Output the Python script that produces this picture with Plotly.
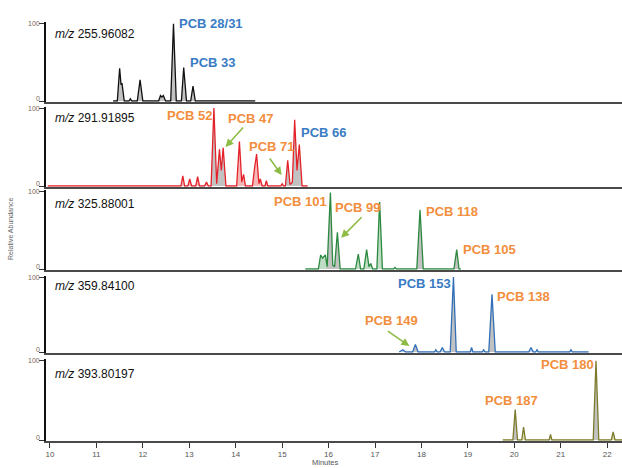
import plotly.graph_objects as go

# ---------------- data ----------------
x_ticks = list(range(10, 23))
y_ticks = [0, 100]
mz_values = ["255.96082", "291.91895", "325.88001", "359.84100", "393.80197"]

# panel 1 (m/z 255.96082) - time (min), relative abundance (%)
p1_t = [11.36, 11.45, 11.50, 11.53, 11.55, 11.60, 11.70, 11.73, 11.76, 11.88, 11.94, 12.00,
        12.34, 12.38, 12.41, 12.44, 12.49, 12.60, 12.66, 12.72, 12.83, 12.88, 12.94,
        13.03, 13.08, 13.13, 14.42]
p1_i = [0, 0, 42, 21, 23, 0, 0, 3, 0, 0, 27, 0,
        0, 7, 5, 7, 0, 0, 99, 0, 0, 43, 0,
        0, 19, 0, 0]
p1_gray = [11.50, 11.55, 11.94, 12.41, 12.66, 12.88, 13.08]

# panel 2 (m/z 291.91895)
p2_t = [9.95, 12.82, 12.86, 12.90, 12.97, 13.01, 13.05, 13.14, 13.18, 13.22, 13.33, 13.37, 13.41,
        13.47, 13.53, 13.59, 13.65, 13.69, 13.73, 13.79, 14.02, 14.08, 14.13, 14.17, 14.21,
        14.36, 14.41, 14.45, 14.50, 14.53, 14.57, 14.63, 14.66, 14.69, 14.97, 15.00, 15.03,
        15.07, 15.12, 15.17, 15.22, 15.27, 15.32, 15.37, 15.43, 15.55]
p2_i = [0, 0, 13, 0, 0, 9, 0, 0, 12, 0, 0, 5, 0,
        0, 100, 3, 47, 20, 49, 0, 0, 57, 5, 15, 0,
        0, 25, 41, 3, 9, 0, 0, 7, 0, 0, 3, 0,
        0, 33, 2, 5, 85, 20, 53, 0, 0]
p2_gray = [13.53, 13.65, 13.73, 15.12, 15.27, 15.37]

# panel 3 (m/z 325.88001)
p3_t = [15.50, 15.78, 15.83, 15.87, 15.93, 15.97, 16.04, 16.09, 16.13, 16.19, 16.25,
        16.58, 16.64, 16.69, 16.76, 16.82, 16.87, 16.91, 16.95, 17.04, 17.10, 17.16,
        17.40, 17.43, 17.46, 17.90, 17.97, 18.04, 18.70, 18.76, 18.81, 18.85]
p3_i = [0, 0, 18, 14, 18, 3, 98, 5, 3, 47, 0,
        0, 19, 0, 0, 25, 3, 7, 0, 0, 86, 0,
        0, 2, 0, 0, 76, 0, 0, 25, 0, 0]
p3_gray = [16.04, 16.19, 17.97, 18.76]

# panel 4 (m/z 359.84100)
p4_t = [17.52, 17.60, 17.66, 17.81, 17.87, 17.93, 18.28, 18.31, 18.34, 18.40, 18.45, 18.50,
        18.62, 18.69, 18.75, 19.05, 19.08, 19.11, 19.31, 19.34, 19.37, 19.45, 19.52, 19.59,
        20.31, 20.36, 20.41, 20.46, 20.49, 20.52, 21.19, 21.22, 21.25, 21.60]
p4_i = [0, 3, 0, 0, 10, 0, 0, 3, 0, 0, 6, 0,
        0, 100, 0, 0, 6, 0, 0, 3, 0, 0, 77, 0,
        0, 6, 0, 0, 3, 0, 0, 3, 0, 0]
p4_gray = [17.87, 18.69, 19.52]

# panel 5 (m/z 393.80197)
p5_t = [19.75, 19.97, 20.02, 20.07, 20.16, 20.20, 20.24, 20.75, 20.78, 20.81,
        21.70, 21.76, 21.82, 22.09, 22.13, 22.17, 22.35]
p5_i = [0, 0, 38, 0, 0, 16, 0, 0, 7, 0,
        0, 99, 0, 0, 10, 0, 0]
p5_gray = [20.02, 21.76]

# ---------------- styling / layout ----------------
W, H = 622, 468
FONT = "Liberation Sans, Arial, sans-serif"
ORANGE = "#f28e3c"
BLUE = "#3a7cc4"
ARROW = "#8dbb45"

panels = [
    dict(t=p1_t, i=p1_i, g=p1_gray, color="#111111", tint="#cfcfcf", px=(23, 101)),
    dict(t=p2_t, i=p2_i, g=p2_gray, color="#e4222a", tint="#f5b8b8", px=(108, 186)),
    dict(t=p3_t, i=p3_i, g=p3_gray, color="#2b8a40", tint="#bfdcc4", px=(191, 269)),
    dict(t=p4_t, i=p4_i, g=p4_gray, color="#3170b8", tint="#bfd2ea", px=(277, 352)),
    dict(t=p5_t, i=p5_i, g=p5_gray, color="#7d7b2c", tint="#dcdbb0", px=(360, 440)),
]

YLO, YHI = -1, 101
fig = go.Figure()
layout = dict(
    width=W, height=H,
    margin=dict(l=46, r=0, t=0, b=0),
    paper_bgcolor="white", plot_bgcolor="white",
    showlegend=False,
    font=dict(family=FONT),
)


def gray_part(t, i, centres, w=0.07):
    return [v if any(abs(tt - c) <= w for c in centres) else 0 for tt, v in zip(t, i)]


ann = []

for k, p in enumerate(panels, start=1):
    T, B = p["px"]
    s = (B - T) / 100.0
    dom = [1 - (B - YLO * s) / H, 1 - (T - (YHI - 100) * s) / H]
    xa = "x" if k == 1 else f"x{k}"
    ya = "y" if k == 1 else f"y{k}"
    fig.add_trace(go.Scatter(x=p["t"], y=p["i"], mode="lines", line=dict(width=0),
                             fill="tozeroy", fillcolor=p["tint"], xaxis=xa, yaxis=ya,
                             hoverinfo="skip"))
    fig.add_trace(go.Scatter(x=p["t"], y=gray_part(p["t"], p["i"], p["g"]), mode="lines",
                             line=dict(width=0), fill="tozeroy", fillcolor="#c2c2c2",
                             xaxis=xa, yaxis=ya, hoverinfo="skip"))
    fig.add_trace(go.Scatter(x=p["t"], y=p["i"], mode="lines",
                             line=dict(color=p["color"], width=1.3),
                             xaxis=xa, yaxis=ya))
    bottom = (k == len(panels))
    layout["xaxis" if k == 1 else f"xaxis{k}"] = dict(
        domain=[0, 1], anchor=ya, range=[9.914, 22.32],
        showline=True, linecolor="#4a4a4a", linewidth=2, layer="below traces",
        showgrid=False, zeroline=False,
        ticks="outside" if bottom else "", ticklen=5, tickcolor="#333",
        tickvals=x_ticks, showticklabels=bottom,
        tickfont=dict(size=8, color="#555", family=FONT),
        **({} if k == 1 else dict(matches="x")),
    )
    layout["yaxis" if k == 1 else f"yaxis{k}"] = dict(
        domain=dom, anchor=xa, range=[YLO, YHI],
        showline=True, linecolor="#111", linewidth=1.5,
        showgrid=False, zeroline=False,
        ticks="outside", ticklen=5, tickcolor="#333", tickvals=y_ticks,
        showticklabels=False,
    )
    for v in y_ticks:
        ann.append(dict(text=str(v), x=0, y=v, xref="paper", yref=ya,
                        xanchor="right", yanchor="bottom" if v == 0 else "middle",
                        xshift=-5, yshift=-2 if v == 0 else 0, showarrow=False,
                        borderpad=0,
                        font=dict(size=7, color="#7a6558", family=FONT)))

fig.update_layout(**layout)


def lab(text, x, y, k, color, size=13, bold=True):
    ann.append(dict(text=f"<b>{text}</b>" if bold else text, x=x, y=y,
                    xref="x", yref="y" if k == 1 else f"y{k}",
                    xanchor="left", yanchor="middle", showarrow=False,
                    font=dict(size=size, color=color, family=FONT)))


mz_y = [86, 87, 83, 88, 83]
for k, (mz, yy) in enumerate(zip(mz_values, mz_y), start=1):
    lab(f"<i>m/z</i> {mz}", 10.06, yy, k, "#111", size=12, bold=False)

lab("PCB 28/31", 12.74, 100, 1, BLUE)
lab("PCB 33", 12.97, 49, 1, BLUE)
lab("PCB 52", 12.47, 90, 2, ORANGE)
lab("PCB 47", 13.79, 87, 2, ORANGE)
lab("PCB 71", 14.24, 51, 2, ORANGE)
lab("PCB 66", 15.36, 68, 2, BLUE)
lab("PCB 101", 14.78, 87, 3, ORANGE)
lab("PCB 99", 16.10, 79, 3, ORANGE)
lab("PCB 118", 18.06, 74, 3, ORANGE)
lab("PCB 105", 18.85, 25, 3, ORANGE)
lab("PCB 153", 17.46, 92, 4, BLUE)
lab("PCB 138", 19.59, 74, 4, ORANGE)
lab("PCB 149", 16.75, 42, 4, ORANGE)
lab("PCB 180", 20.54, 94, 5, ORANGE)
lab("PCB 187", 19.33, 50, 5, ORANGE)


def arrow(x, y, k, ax, ay):
    ann.append(dict(text="", x=x, y=y, xref="x", yref="y" if k == 1 else f"y{k}",
                    ax=ax, ay=ay, showarrow=True, arrowhead=2, arrowsize=1,
                    arrowwidth=1.6, arrowcolor=ARROW, standoff=0))


arrow(13.78, 50, 2, 19, -21)
arrow(14.99, 14, 2, -13, -18)
arrow(16.27, 40, 3, 22, -22)
arrow(17.74, 8, 4, -23, -16)

ann.append(dict(text="Relative Abundance", x=(10 - 46) / 576, y=1 - 229 / H,
                xref="paper", yref="paper", textangle=-90, showarrow=False,
                xanchor="center", yanchor="middle",
                font=dict(size=7, color="#666", family=FONT)))
ann.append(dict(text="Minutes", x=(325 - 46) / 576, y=0,
                xref="paper", yref="paper", showarrow=False,
                xanchor="center", yanchor="bottom", borderpad=0,
                font=dict(size=7.5, color="#555", family=FONT)))

fig.update_layout(annotations=ann)
fig.write_html("out.html")
